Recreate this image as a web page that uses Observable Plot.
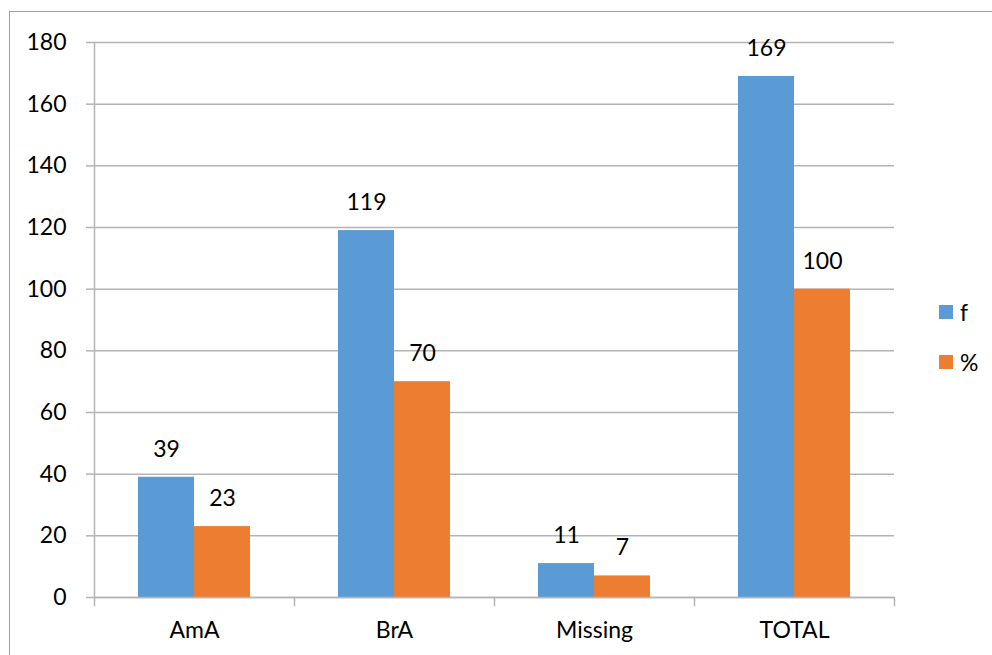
<!DOCTYPE html>
<html>
<head>
<meta charset="utf-8">
<script src="https://cdn.jsdelivr.net/npm/d3@7"></script>
<script src="https://cdn.jsdelivr.net/npm/@observablehq/plot@0.6"></script>
<style>
  html, body { margin: 0; padding: 0; background: #fff; overflow: hidden; }
  body { width: 992px; height: 655px; position: relative; font-family: Lato, "Liberation Sans", sans-serif; }
  #frame { position: absolute; left: 9px; top: 11px; width: 1100px; height: 800px; border: 1.5px solid #a0a0a0; box-sizing: border-box; }
  #chart { position: absolute; left: 0; top: 0; }
  #legend { position: absolute; left: 939px; top: 296px; font-size: 23px; color: #000; }
  #legend .item { display: flex; align-items: center; height: 32px; margin-bottom: 18px; }
  #legend .sw { width: 14px; height: 14px; margin-right: 7px; }
</style>
</head>
<body>
<div id="frame"></div>
<div id="chart"></div>
<div id="legend"></div>
<script>
// Categories, series and their values
const categories = ["AmA", "BrA", "Missing", "TOTAL"];
const seriesNames = ["f", "%"];
const fValues = [39, 119, 11, 169];
const pctValues = [23, 70, 7, 100];
const yTicks = [0, 20, 40, 60, 80, 100, 120, 140, 160, 180];
const colors = ["#5b9bd5", "#ed7d31"];

// Long-format rows for the grouped bars
const rows = categories.flatMap((c, i) => [
  {category: c, series: seriesNames[0], value: fValues[i]},
  {category: c, series: seriesNames[1], value: pctValues[i]}
]);

const width = 992, height = 655;
const margin = {top: 42, right: 97, bottom: 58, left: 92};
const innerHeight = height - margin.top - margin.bottom;
const gridColor = "#b4b4b4";
const tickLen = 8;

const chart = Plot.plot({
  width, height,
  marginTop: margin.top, marginRight: margin.right,
  marginBottom: margin.bottom, marginLeft: margin.left,
  style: {fontFamily: "Lato, 'Liberation Sans', sans-serif", fontSize: "23px", color: "#000", background: "transparent"},
  fx: {domain: categories, padding: 0, label: null},
  x: {domain: seriesNames, paddingInner: 0, paddingOuter: 0.76, axis: null},
  y: {domain: [0, 180], label: null},
  color: {domain: seriesNames, range: colors},
  marks: [
    Plot.gridY(yTicks, {stroke: gridColor, strokeOpacity: 1, strokeWidth: 1.5}),
    Plot.axisY(yTicks, {tickSize: tickLen, tickPadding: 20, stroke: gridColor, strokeWidth: 1.5, fill: "#000", label: null, fontSize: 23}),
    Plot.axisFx({anchor: "bottom", tickSize: 0, tickPadding: 24, label: null, fill: "#000", fontSize: 23}),
    Plot.barY(rows, {fx: "category", x: "series", y: "value", fill: "series"}),
    Plot.text(rows, {fx: "category", x: "series", y: "value", text: "value", lineAnchor: "middle", dy: -28, fill: "#000", fontSize: 23}),
    // y axis line, on the leftmost facet only
    Plot.frame({anchor: "left", facetAnchor: "left", stroke: gridColor, strokeWidth: 1.5}),
    // category boundary ticks below the baseline
    Plot.frame({anchor: "left", insetTop: innerHeight, insetBottom: -tickLen, stroke: gridColor, strokeWidth: 1.5}),
    Plot.frame({anchor: "right", facetAnchor: "right", insetTop: innerHeight, insetBottom: -tickLen, stroke: gridColor, strokeWidth: 1.5}),
    Plot.ruleY([0], {stroke: gridColor, strokeWidth: 1.5})
  ]
});
document.getElementById("chart").append(chart);

// Legend
const legend = d3.select("#legend");
seriesNames.forEach((s, i) => {
  const item = legend.append("div").attr("class", "item");
  item.append("div").attr("class", "sw").style("background", colors[i]);
  item.append("span").text(s);
});
</script>
</body>
</html>
